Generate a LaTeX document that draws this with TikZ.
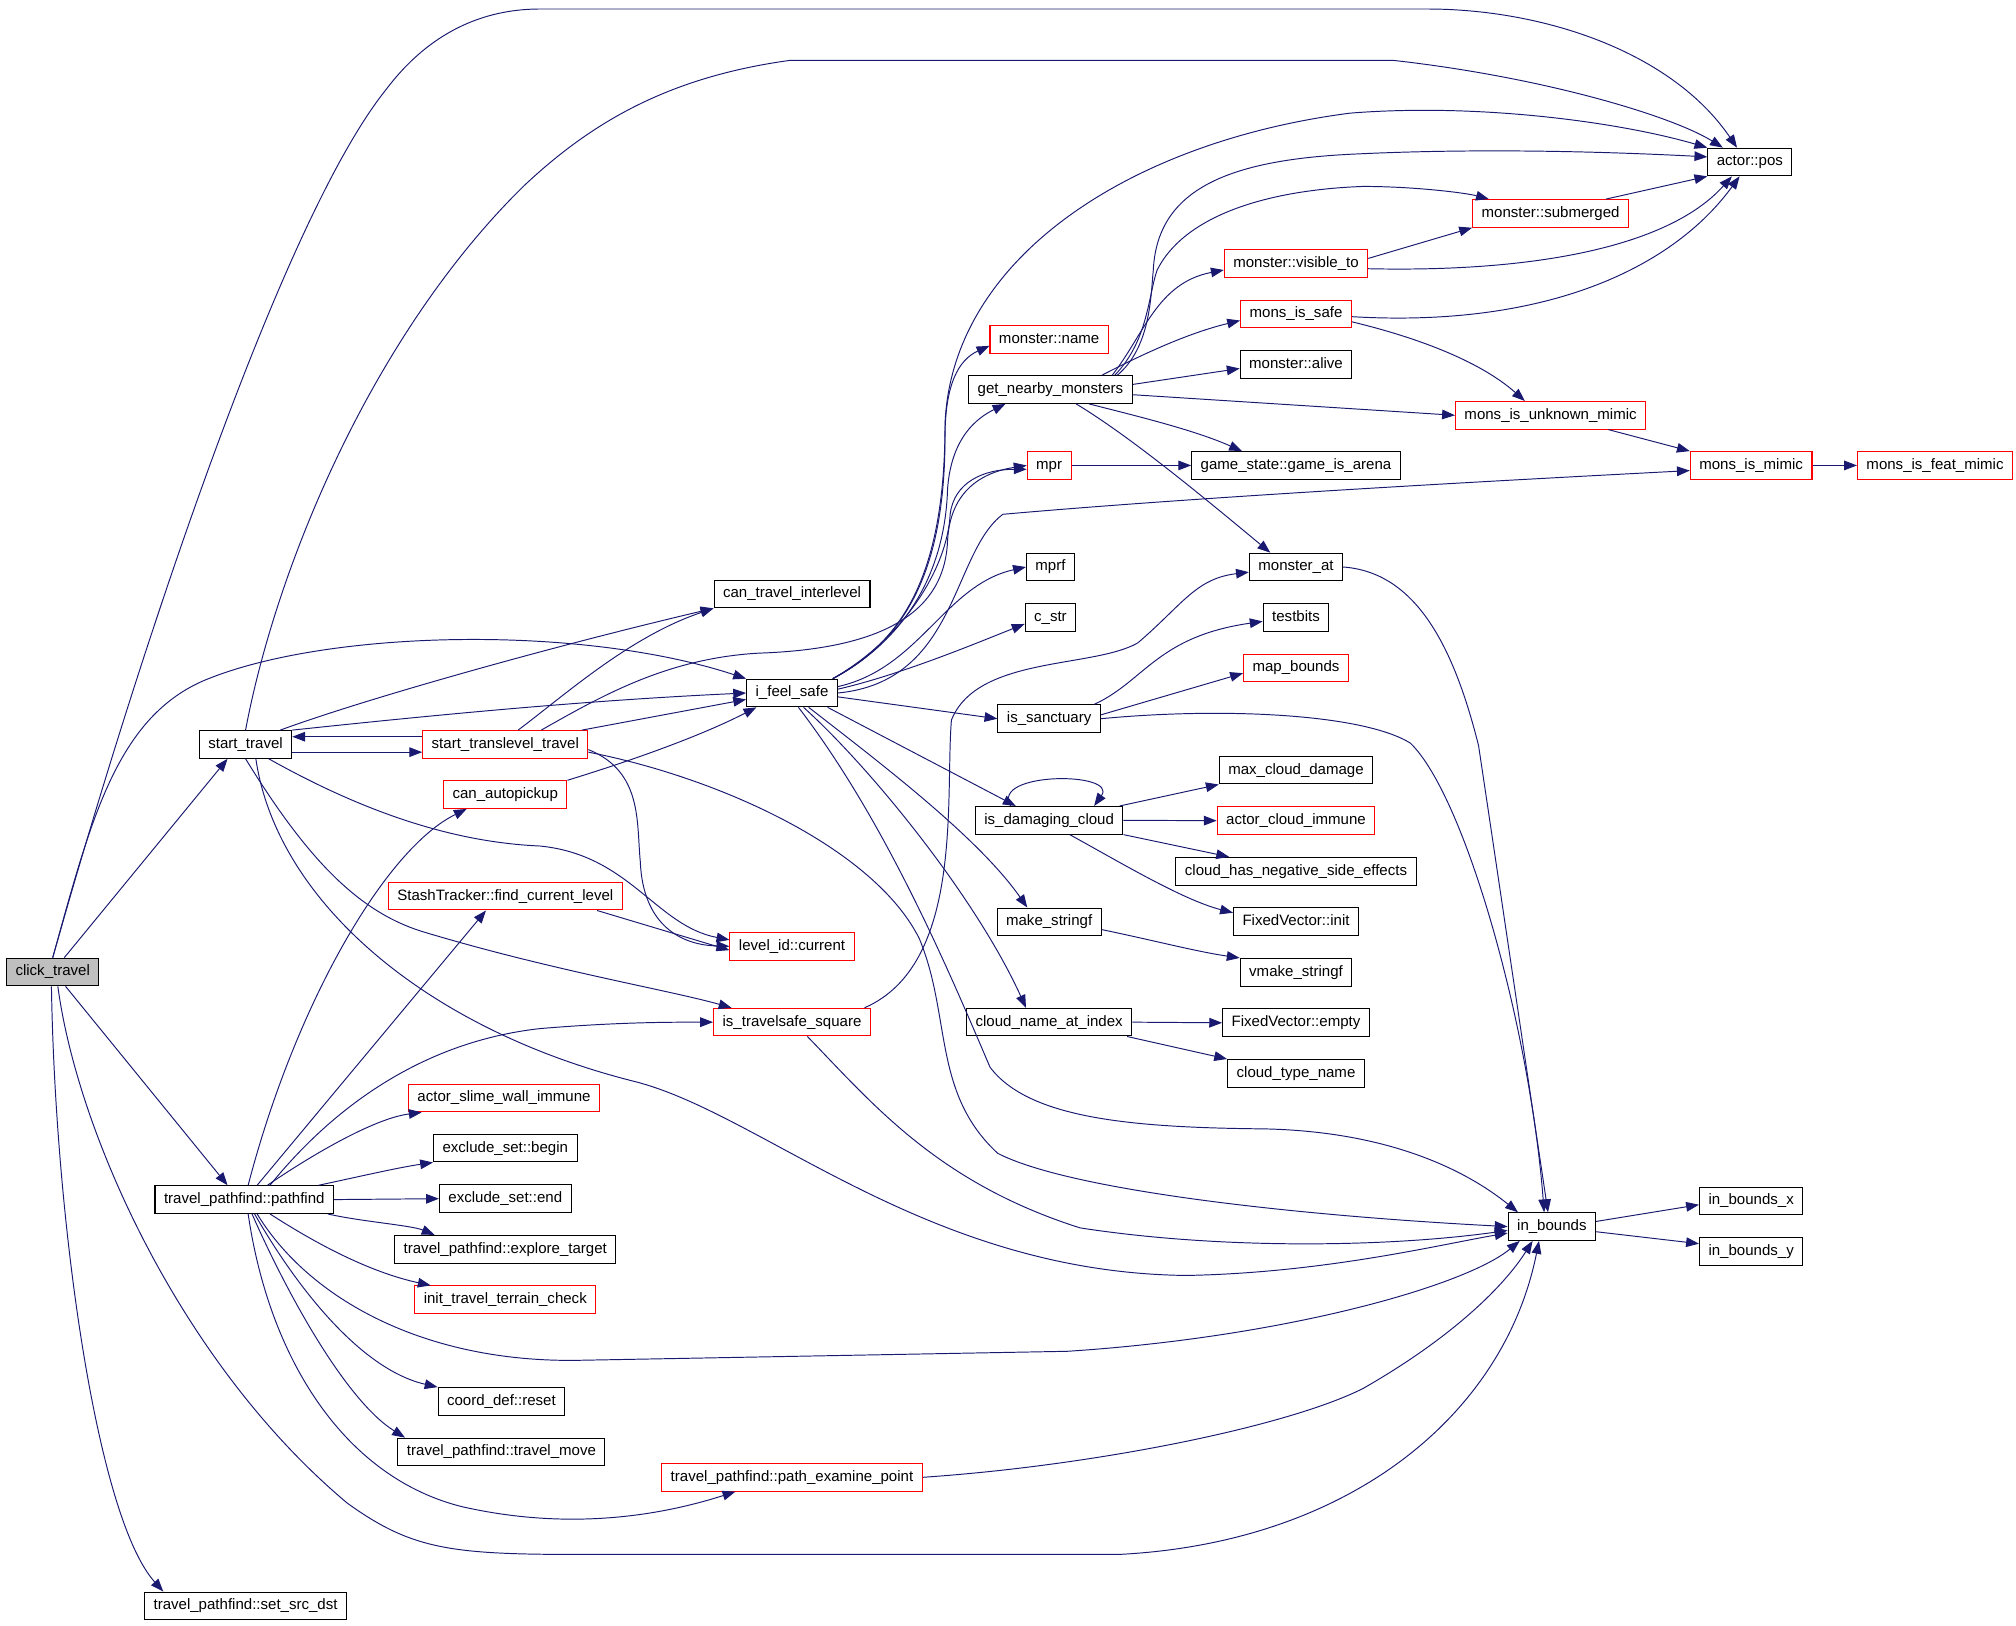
\documentclass[tikz,border=0pt]{standalone}
\usepackage{fontspec}
\setmainfont{Liberation Sans}
\usetikzlibrary{arrows.meta}
\definecolor{edgeblue}{RGB}{25,25,112}
\definecolor{rootgray}{RGB}{191,191,191}

\begin{document}
\begin{tikzpicture}[x=1pt,y=-1pt,node distance=39.3pt,>={Triangle[length=10pt,width=7.5pt]},
  fn/.style={draw=black,fill=white,line width=0.8pt,minimum height=21.5pt,inner xsep=7pt,inner ysep=0pt,
    font=\fontsize{11.7}{13}\selectfont,text height=8.5pt,text depth=2.5pt},
  fnred/.style={fn,draw=red},
  fnroot/.style={fn,fill=rootgray},
  call/.style={->,draw=edgeblue,line width=0.75pt}]
  \useasboundingbox (0,0) rectangle (1568,1264);

  \node[fnroot] (CT) at (41,756) {click\_travel};
  \node[fn] (ST) at (191,579) {start\_travel};
  \node[fn] (PF) at (190,933) {travel\_pathfind::pathfind};
  \node[fn] (SSD) at (191,1249) {travel\_pathfind::set\_src\_dst};
  \node[fnred] (STT) at (393,579) {start\_translevel\_travel};
  \node[fnred] (CAP) at (393,618) {can\_autopickup};
  \node[fnred] (FCL) at (393,697) {StashTracker::find\_current\_level};
  \node[fnred] (SWI) at (392,854) {actor\_slime\_wall\_immune};
  \node[fn] (ESB) at (393,893) {exclude\_set::begin};
  \node[fn] (ESE) [below of=ESB] {exclude\_set::end};
  \node[fn] (ET) [below of=ESE] {travel\_pathfind::explore\_target};
  \node[fnred] (ITC) [below of=ET] {init\_travel\_terrain\_check};
  \node[fn] (CDR) at (390,1090) {coord\_def::reset};
  \node[fn] (TM) [below of=CDR] {travel\_pathfind::travel\_move};
  \node[fnred] (PEP) at (616,1149) {travel\_pathfind::path\_examine\_point};
  \node[fn] (CTI) at (616,462) {can\_travel\_interlevel};
  \node[fn] (IFS) at (616,539) {i\_feel\_safe};
  \node[fnred] (LIC) at (616,736) {level\_id::current};
  \node[fnred] (ITS) at (616,795) {is\_travelsafe\_square};
  \node[fnred] (MN) at (816,264) {monster::name};
  \node[fn] (GNM) at (817,303) {get\_nearby\_monsters};
  \node[fnred] (MPR) at (816,362) {mpr};
  \node[fn] (MPRF) at (817,441) {mprf};
  \node[fn] (CSTR) [below of=MPRF] {c\_str};
  \node[fn] (SANC) at (816,559) {is\_sanctuary};
  \node[fn] (IDC) at (816,638) {is\_damaging\_cloud};
  \node[fn] (MKS) at (816,717) {make\_stringf};
  \node[fn] (CNI) at (816,795) {cloud\_name\_at\_index};
  \node[fnred] (VIS) at (1008,205) {monster::visible\_to};
  \node[fnred] (MIS) [below of=VIS] {mons\_is\_safe};
  \node[fn] (ALV) [below of=MIS] {monster::alive};
  \node[fn] (GIA) at (1008,362) {game\_state::game\_is\_arena};
  \node[fn] (MAT) at (1008,441) {monster\_at};
  \node[fn] (TB) [below of=MAT] {testbits};
  \node[fnred] (MB) [below of=TB] {map\_bounds};
  \node[fn] (MCD) at (1008,599) {max\_cloud\_damage};
  \node[fnred] (ACI) [below of=MCD] {actor\_cloud\_immune};
  \node[fn] (CNS) [below of=ACI] {cloud\_has\_negative\_side\_effects};
  \node[fn] (FVI) [below of=CNS] {FixedVector::init};
  \node[fn] (VMS) [below of=FVI] {vmake\_stringf};
  \node[fn] (FVE) [below of=VMS] {FixedVector::empty};
  \node[fn] (CTN) [below of=FVE] {cloud\_type\_name};
  \node[fn] (POS) at (1361,126) {actor::pos};
  \node[fnred] (SUB) at (1206,166) {monster::submerged};
  \node[fnred] (MUM) at (1206,323) {mons\_is\_unknown\_mimic};
  \node[fnred] (MIM) at (1362,362) {mons\_is\_mimic};
  \node[fnred] (MFM) at (1505,362) {mons\_is\_feat\_mimic};
  \node[fn] (IB) at (1207,954) {in\_bounds};
  \node[fn] (IBX) at (1362,934) {in\_bounds\_x};
  \node[fn] (IBY) [below of=IBX] {in\_bounds\_y};

  \draw[call] (CT.north) .. controls (110,500) and (220,170) .. (300,70) .. controls (330,30) and (370,7) .. (420,7) -- (1110,7) .. controls (1200,7) and (1300,40) .. ([xshift=-10pt]POS.north);
  \draw[call] (CT.north) .. controls (70,640) and (90,560) .. (157,530) .. controls (250,490) and (450,485) .. (IFS.north west);
  \draw[call] ([xshift=9pt]CT.north) -- ([xshift=-14pt]ST.south);
  \draw[call] ([xshift=10pt]CT.south) -- ([xshift=-13pt]PF.north);
  \draw[call] ([xshift=-1pt]CT.south) .. controls (43,950) and (75,1180) .. ([xshift=-64pt]SSD.north);
  \draw[call] ([xshift=4pt]CT.south) .. controls (60,880) and (140,1060) .. (270,1169) .. controls (320,1205) and (350,1209) .. (450,1209) -- (870,1209) .. controls (1050,1200) and (1170,1100) .. ([xshift=-10pt]IB.south);

  \draw[call] (ST.north) .. controls (215,440) and (290,260) .. (407,145) .. controls (460,95) and (520,60) .. (614,47) -- (1084,47) .. controls (1200,60) and (1300,90) .. ([xshift=-21pt]POS.north);
  \draw[call] ([xshift=27pt]ST.north) .. controls (280,545) and (420,505) .. (CTI.south west);
  \draw[call] (ST.north east) .. controls (330,557) and (450,545) .. (IFS.west);
  \draw[call] ([yshift=-6pt]ST.east) -- ([yshift=-6pt]STT.west);
  \draw[call] ([yshift=6pt]STT.west) -- ([yshift=6pt]ST.east);
  \draw[call] ([xshift=8pt]ST.south) .. controls (215,700) and (330,800) .. (493,841) .. controls (593,866) and (720,990) .. (923,992) .. controls (1030,990) and (1120,968) .. ([yshift=-5pt]IB.west);
  \draw[call] ([xshift=18pt]ST.south) .. controls (280,630) and (350,655) .. (420,658) .. controls (490,665) and (510,720) .. ([yshift=5pt]LIC.west);
  \draw[call] (ST.south) .. controls (240,670) and (280,710) .. (330,725) .. controls (430,755) and (520,770) .. ([xshift=-47pt]ITS.north);

  \draw[call] ([xshift=10pt]STT.north) .. controls (440,540) and (490,495) .. (CTI.south west);
  \draw[call] ([xshift=28pt]STT.north) .. controls (470,540) and (520,512) .. (590,508) .. controls (680,505) and (735,480) .. (737,420) .. controls (739,385) and (760,368) .. (MPR.west);
  \draw[call] ([xshift=-5pt]STT.north east) -- ([yshift=-5pt]IFS.west);
  \draw[call] ([yshift=-4pt]STT.east) .. controls (500,600) and (495,640) .. (498,670) .. controls (500,720) and (530,735) .. (LIC.west);
  \draw[call] ([yshift=-6pt]STT.east) .. controls (560,605) and (680,660) .. (715,730) .. controls (740,790) and (725,850) .. (776,897) .. controls (830,925) and (1000,945) .. (IB.west);
  \draw[call] (CAP.north east) .. controls (480,595) and (540,575) .. ([xshift=8pt]IFS.south west);
  \draw[call] ([xshift=-20pt]FCL.south east) -- ([yshift=-3pt]LIC.west);

  \draw[call] ([xshift=-4pt]IFS.north east) .. controls (700,500) and (735,450) .. (735,330) .. controls (740,200) and (880,110) .. (1050,88) .. controls (1150,80) and (1260,95) .. (POS.north west);
  \draw[call] ([xshift=-4pt]IFS.north east) .. controls (700,500) and (735,450) .. (735,340) .. controls (735,300) and (745,280) .. ([yshift=-5pt]MN.west);
  \draw[call] ([xshift=-4pt]IFS.north east) .. controls (700,500) and (735,450) .. (737,380) .. controls (740,340) and (760,325) .. ([xshift=-35pt]GNM.south);
  \draw[call] ([xshift=-4pt]IFS.north east) .. controls (705,495) and (737,440) .. (739,400) .. controls (742,375) and (765,365) .. ([yshift=-3pt]MPR.west);
  \draw[call] ([yshift=5pt]IFS.east) .. controls (715,520) and (735,455) .. (MPRF.west);
  \draw[call] ([yshift=3pt]IFS.east) .. controls (700,525) and (760,500) .. ([yshift=-5pt]CSTR.west);
  \draw[call] (IFS.east) .. controls (745,530) and (740,430) .. (780,400) .. controls (950,385) and (1200,372) .. ([yshift=-4pt]MIM.west);
  \draw[call] ([yshift=-3pt]IFS.east) -- (SANC.west);
  \draw[call] ([xshift=-8pt]IFS.south east) -- ([xshift=-26pt]IDC.north);
  \draw[call] ([xshift=13pt]IFS.south) .. controls (680,590) and (760,650) .. ([xshift=-17pt]MKS.north);
  \draw[call] ([xshift=9pt]IFS.south) .. controls (680,600) and (760,700) .. ([xshift=-18pt]CNI.north);
  \draw[call] ([xshift=5pt]IFS.south) .. controls (690,640) and (740,760) .. (770,830) .. controls (800,870) and (880,877) .. (983,878) .. controls (1080,880) and (1140,910) .. ([xshift=8pt]IB.north west);

  \draw[call] ([xshift=52pt]GNM.north) .. controls (895,270) and (895,230) .. (897,210) .. controls (900,150) and (950,125) .. (1050,120) .. controls (1150,115) and (1250,118) .. ([yshift=4pt]POS.west);
  \draw[call] ([xshift=50pt]GNM.north) .. controls (893,265) and (893,230) .. (900,210) .. controls (920,170) and (980,148) .. (1060,145) .. controls (1100,145) and (1140,150) .. ([xshift=-48pt]SUB.north);
  \draw[call] ([xshift=48pt]GNM.north) .. controls (890,260) and (900,220) .. ([yshift=-5pt]VIS.west);
  \draw[call] ([xshift=40pt]GNM.north) .. controls (880,280) and (920,260) .. ([yshift=-5pt]MIS.west);
  \draw[call] ([yshift=4pt]GNM.east) -- ([yshift=-3pt]ALV.west);
  \draw[call] ([yshift=-4pt]GNM.east) -- (MUM.west);
  \draw[call] ([xshift=30pt]GNM.south) .. controls (890,325) and (930,335) .. ([xshift=-42pt]GIA.north);
  \draw[call] ([xshift=20pt]GNM.south) .. controls (880,340) and (940,390) .. ([xshift=-20pt]MAT.north);
  \draw[call] (MPR.east) -- (GIA.west);

  \draw[call] ([yshift=4pt]VIS.east) -- (SUB.south west);
  \draw[call] ([yshift=-4pt]VIS.east) .. controls (1200,212) and (1300,190) .. ([xshift=-14pt]POS.south);
  \draw[call] ([yshift=-2pt]MIS.east) .. controls (1200,255) and (1300,210) .. ([xshift=-8pt]POS.south);
  \draw[call] ([yshift=-6pt]MIS.east) .. controls (1100,262) and (1150,280) .. ([xshift=-20pt]MUM.north);
  \draw[call] ([xshift=-18pt]SUB.north east) -- (POS.south west);
  \draw[call] ([xshift=45pt]MUM.south) -- (MIM.north west);
  \draw[call] (MIM.east) -- (MFM.west);

  \draw[call] (MAT.east) .. controls (1100,445) and (1130,500) .. (1150,580) .. controls (1168,700) and (1190,850) .. ([xshift=-3pt]IB.north);
  \draw[call] (SANC.east) .. controls (950,550) and (1060,555) .. (1097,578) .. controls (1140,620) and (1190,800) .. ([xshift=-6pt]IB.north);
  \draw[call] ([xshift=35pt]SANC.north) .. controls (890,530) and (900,495) .. ([yshift=-3pt]TB.west);
  \draw[call] ([yshift=3pt]SANC.east) -- ([yshift=-4pt]MB.west);
  \draw[call] ([xshift=-30pt]IDC.north) .. controls (770,600) and (870,600) .. ([xshift=35pt]IDC.north);
  \draw[call] ([xshift=-3pt]IDC.north east) -- (MCD.south west);
  \draw[call] (IDC.east) -- (ACI.west);
  \draw[call] (IDC.south east) -- ([xshift=-52pt]CNS.north);
  \draw[call] ([xshift=16pt]IDC.south) .. controls (870,670) and (920,700) .. ([yshift=7pt]FVI.west);
  \draw[call] ([yshift=-6pt]MKS.east) .. controls (900,732) and (930,740) .. (VMS.north west);
  \draw[call] (CNI.east) -- (FVE.west);
  \draw[call] ([xshift=-4pt]CNI.south east) -- (CTN.north west);
  \draw[call] ([yshift=4pt]IB.east) -- ([yshift=-3pt]IBX.west);
  \draw[call] ([yshift=-4pt]IB.east) -- ([yshift=6pt]IBY.west);

  \draw[call] ([xshift=3pt]PF.north) .. controls (230,780) and (300,660) .. ([xshift=-30pt]CAP.south);
  \draw[call] ([xshift=10pt]PF.north) -- ([xshift=-15pt]FCL.south);
  \draw[call] ([xshift=20pt]PF.north) .. controls (260,860) and (330,810) .. (420,800) .. controls (480,795) and (520,795) .. (ITS.west);
  \draw[call] ([xshift=18pt]PF.north) .. controls (240,900) and (290,870) .. ([xshift=-64pt]SWI.south);
  \draw[call] ([xshift=-12pt]PF.north east) .. controls (280,915) and (310,908) .. (ESB.south west);
  \draw[call] (PF.east) -- (ESE.west);
  \draw[call] ([xshift=-5pt]PF.south east) .. controls (280,950) and (320,953) .. ([xshift=-55pt]ET.north);
  \draw[call] ([xshift=20pt]PF.south) .. controls (250,970) and (290,990) .. ([xshift=-58pt]ITC.north);
  \draw[call] ([xshift=10pt]PF.south) .. controls (240,1010) and (330,1060) .. (450,1058) -- (830,1051) .. controls (1000,1040) and (1140,1000) .. ([xshift=-25pt]IB.south);
  \draw[call] ([xshift=8pt]PF.south) .. controls (230,1000) and (280,1065) .. (CDR.north west);
  \draw[call] ([xshift=6pt]PF.south) .. controls (225,1010) and (270,1090) .. ([xshift=-75pt]TM.north);
  \draw[call] ([xshift=3pt]PF.south) .. controls (210,1060) and (270,1150) .. (360,1172) .. controls (440,1190) and (510,1180) .. ([xshift=-44pt]PEP.south);
  \draw[call] (PEP.east) .. controls (850,1140) and (1000,1110) .. (1060,1080) .. controls (1130,1040) and (1170,1000) .. ([xshift=-15pt]IB.south);
  \draw[call] ([xshift=12pt]ITS.south) .. controls (680,860) and (730,920) .. (840,955) .. controls (950,972) and (1080,970) .. ([yshift=-3pt]IB.west);
  \draw[call] ([xshift=-5pt]ITS.north east) .. controls (750,750) and (735,620) .. (740,560) .. controls (760,510) and (850,520) .. (885,500) .. controls (920,470) and (930,450) .. ([yshift=-4pt]MAT.west);
\end{tikzpicture}
\end{document}
